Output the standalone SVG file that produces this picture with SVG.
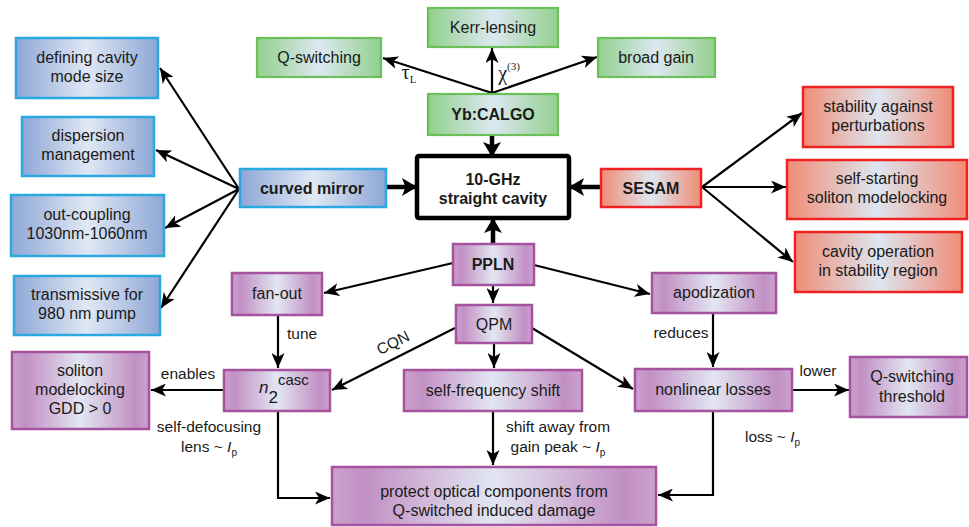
<svg xmlns="http://www.w3.org/2000/svg" width="969" height="527" viewBox="0 0 969 527">
<style>
  text { font-family: "Liberation Sans", Arial, sans-serif; font-size: 16px; fill: #1a1a1a; text-anchor: middle; }
  .b { font-weight: bold; font-size: 16px; }
  .lbl { font-size: 15.5px; }
  .ser { font-family: "Liberation Serif", "Times New Roman", serif; }
  .blue { fill: url(#gBlue); stroke: #2aa9e0; stroke-width: 2.5; }
  .green { fill: url(#gGreen); stroke: #6cc05a; stroke-width: 2.2; }
  .red { fill: url(#gRed); stroke: #ee2222; stroke-width: 2.5; }
  .purp { fill: url(#gPurp); stroke: #a5529f; stroke-width: 2.5; }
  .cav { fill: #ffffff; stroke: #000; stroke-width: 4.5; }
  .c { fill: none; stroke: #000; stroke-width: 2.2; marker-end: url(#ah); }
  .ct { fill: none; stroke: #000; stroke-width: 4.5; marker-end: url(#ahT); }
</style>
<defs>
  <linearGradient id="gBlue" x1="0" y1="0" x2="1" y2="0">
    <stop offset="0" stop-color="#8ea7d6"/>
    <stop offset="0.5" stop-color="#e0e8f4"/>
    <stop offset="1" stop-color="#8ea7d6"/>
  </linearGradient>
  <linearGradient id="gGreen" x1="0" y1="0" x2="1" y2="0">
    <stop offset="0" stop-color="#92d08e"/>
    <stop offset="0.5" stop-color="#dce8f0"/>
    <stop offset="1" stop-color="#92d08e"/>
  </linearGradient>
  <linearGradient id="gRed" x1="0" y1="0" x2="1" y2="0">
    <stop offset="0" stop-color="#f08c76"/>
    <stop offset="0.5" stop-color="#dde6f0"/>
    <stop offset="1" stop-color="#f08c76"/>
  </linearGradient>
  <linearGradient id="gPurp" x1="0" y1="0" x2="1" y2="0">
    <stop offset="0" stop-color="#cca2cd"/>
    <stop offset="0.1" stop-color="#c290c4"/>
    <stop offset="0.5" stop-color="#e2e6f2"/>
    <stop offset="0.9" stop-color="#c290c4"/>
    <stop offset="1" stop-color="#cca2cd"/>
  </linearGradient>
  <marker id="ah" markerUnits="userSpaceOnUse" markerWidth="16" markerHeight="13" refX="15" refY="6.5" orient="auto">
    <path d="M0,0 L15,6.5 L0,13 L4,6.5 z" fill="#000"/>
  </marker>
  <marker id="ahT" markerUnits="userSpaceOnUse" markerWidth="16" markerHeight="18" refX="13" refY="9" orient="auto">
    <path d="M0,0 L15,9 L0,18 L3.5,9 z" fill="#000"/>
  </marker>
</defs>

<g id="connectors">
  <line class="c" x1="239" y1="189" x2="160" y2="68"/>
  <line class="c" x1="239" y1="189" x2="156" y2="150"/>
  <line class="c" x1="239" y1="189" x2="165" y2="228"/>
  <line class="c" x1="239" y1="189" x2="161" y2="308"/>
  <line class="c" x1="492" y1="93" x2="383" y2="58"/>
  <line class="c" x1="492" y1="93" x2="492" y2="48"/>
  <line class="c" x1="492" y1="93" x2="597" y2="57"/>
  <line class="c" x1="702" y1="187" x2="802" y2="113"/>
  <line class="c" x1="702" y1="187" x2="786" y2="187"/>
  <line class="c" x1="702" y1="187" x2="793" y2="262"/>
  <line class="c" x1="453" y1="263" x2="324" y2="293"/>
  <line class="c" x1="534" y1="265" x2="650" y2="294"/>
  <line class="c" x1="493" y1="285" x2="493" y2="303"/>
  <line class="c" x1="278" y1="315" x2="278" y2="368"/>
  <line class="c" x1="455" y1="328" x2="332" y2="390"/>
  <line class="c" x1="494" y1="343" x2="494" y2="368"/>
  <line class="c" x1="532" y1="328" x2="633" y2="389"/>
  <line class="c" x1="713" y1="313" x2="713" y2="367"/>
  <line class="c" x1="224" y1="390" x2="151" y2="390"/>
  <line class="c" x1="792" y1="390" x2="849" y2="390"/>
  <polyline class="c" points="278,411 278,498 330,498"/>
  <line class="c" x1="493" y1="411" x2="493" y2="465"/>
  <polyline class="c" points="713,411 713,495 658,495"/>
  <line class="ct" x1="492" y1="135" x2="492" y2="155"/>
  <line class="ct" x1="386" y1="187" x2="415" y2="187"/>
  <line class="ct" x1="601" y1="187" x2="571" y2="187"/>
  <line class="ct" x1="493" y1="244" x2="493" y2="220"/>

  <text class="lbl" x="287" y="339" style="text-anchor:start">tune</text>
  <text class="lbl" x="188" y="379">enables</text>
  <text class="lbl" x="209" y="432">self-defocusing</text>
  <text class="lbl" x="209" y="452">lens ~ <tspan font-style="italic">I</tspan><tspan font-size="10" dy="4">p</tspan></text>
  <text class="lbl" x="393" y="348" transform="rotate(-27 393 343)">CQN</text>
  <text class="lbl" x="558" y="432">shift away from</text>
  <text class="lbl" x="558" y="452">gain peak ~ <tspan font-style="italic">I</tspan><tspan font-size="10" dy="4">p</tspan></text>
  <text class="lbl" x="681" y="338">reduces</text>
  <text class="lbl" x="818" y="376">lower</text>
  <text class="lbl" x="745" y="442" style="text-anchor:start">loss ~ <tspan font-style="italic">I</tspan><tspan font-size="10" dy="4">p</tspan></text>
  <text class="ser" x="409" y="79" style="font-size:20px">τ<tspan font-size="11" dy="4">L</tspan></text>
  <text class="ser" x="509" y="80" style="font-size:20px">χ<tspan font-size="11" dy="-10">(3)</tspan></text>
</g>

<g id="defining-cavity"><rect class="blue" x="16" y="38" width="142" height="60"/><text x="87" y="63">defining cavity</text><text x="87" y="82">mode size</text></g>
<g id="dispersion"><rect class="blue" x="22" y="117" width="132" height="59"/><text x="88" y="141">dispersion</text><text x="88" y="160">management</text></g>
<g id="out-coupling"><rect class="blue" x="11" y="195" width="153" height="61"/><text x="87" y="220">out-coupling</text><text x="87" y="239">1030nm-1060nm</text></g>
<g id="transmissive"><rect class="blue" x="14" y="276" width="146" height="59"/><text x="87" y="300">transmissive for</text><text x="87" y="319">980 nm pump</text></g>
<g id="curved-mirror"><rect class="blue" x="240" y="169" width="146" height="38"/><text class="b" x="312" y="194">curved mirror</text></g>

<g id="q-switching"><rect class="green" x="257" y="38" width="124" height="39"/><text x="319" y="63">Q-switching</text></g>
<g id="kerr-lensing"><rect class="green" x="428" y="8" width="130" height="39"/><text x="493" y="33">Kerr-lensing</text></g>
<g id="broad-gain"><rect class="green" x="598" y="38" width="117" height="39"/><text x="656" y="63">broad gain</text></g>
<g id="yb-calgo"><rect class="green" x="428" y="94" width="130" height="41"/><text class="b" x="493" y="120">Yb:CALGO</text></g>

<g id="cavity"><rect class="cav" x="417" y="156" width="152" height="62" rx="2"/><text class="b" x="493" y="185">10-GHz</text><text class="b" x="493" y="204">straight cavity</text></g>

<g id="sesam"><rect class="red" x="601" y="169" width="100" height="38"/><text class="b" x="651" y="194">SESAM</text></g>
<g id="stability"><rect class="red" x="803" y="87" width="150" height="60"/><text x="878" y="112">stability against</text><text x="878" y="131">perturbations</text></g>
<g id="self-starting"><rect class="red" x="787" y="160" width="180" height="59"/><text x="877" y="184">self-starting</text><text x="877" y="203">soliton modelocking</text></g>
<g id="cavity-operation"><rect class="red" x="795" y="232" width="167" height="60"/><text x="878" y="257">cavity operation</text><text x="878" y="276">in stability region</text></g>

<g id="ppln"><rect class="purp" x="453" y="244" width="81" height="41"/><text class="b" x="493" y="270">PPLN</text></g>
<g id="qpm"><rect class="purp" x="456" y="305" width="76" height="38"/><text x="494" y="330">QPM</text></g>
<g id="fan-out"><rect class="purp" x="232" y="273" width="90" height="42"/><text x="277" y="299">fan-out</text></g>
<g id="apodization"><rect class="purp" x="652" y="273" width="124" height="40"/><text x="714" y="298">apodization</text></g>
<g id="n2casc"><rect class="purp" x="224" y="370" width="106" height="41"/><text x="259" y="393" style="text-anchor:start;font-size:17px"><tspan font-style="italic">n</tspan><tspan dy="10">2</tspan><tspan dy="-18" font-size="15">casc</tspan></text></g>
<g id="soliton"><rect class="purp" x="12" y="352" width="137" height="77"/><text x="80" y="376">soliton</text><text x="80" y="395">modelocking</text><text x="80" y="414">GDD &gt; 0</text></g>
<g id="self-frequency-shift"><rect class="purp" x="404" y="370" width="178" height="41"/><text x="493" y="396">self-frequency shift</text></g>
<g id="nonlinear-losses"><rect class="purp" x="635" y="369" width="157" height="42"/><text x="713" y="395">nonlinear losses</text></g>
<g id="q-switching-threshold"><rect class="purp" x="850" y="357" width="117" height="60"/><text x="912" y="382">Q-switching</text><text x="912" y="402">threshold</text></g>
<g id="protect"><rect class="purp" x="332" y="467" width="324" height="58"/><text x="494" y="497">protect optical components from</text><text x="494" y="516">Q-switched induced damage</text></g>
</svg>
